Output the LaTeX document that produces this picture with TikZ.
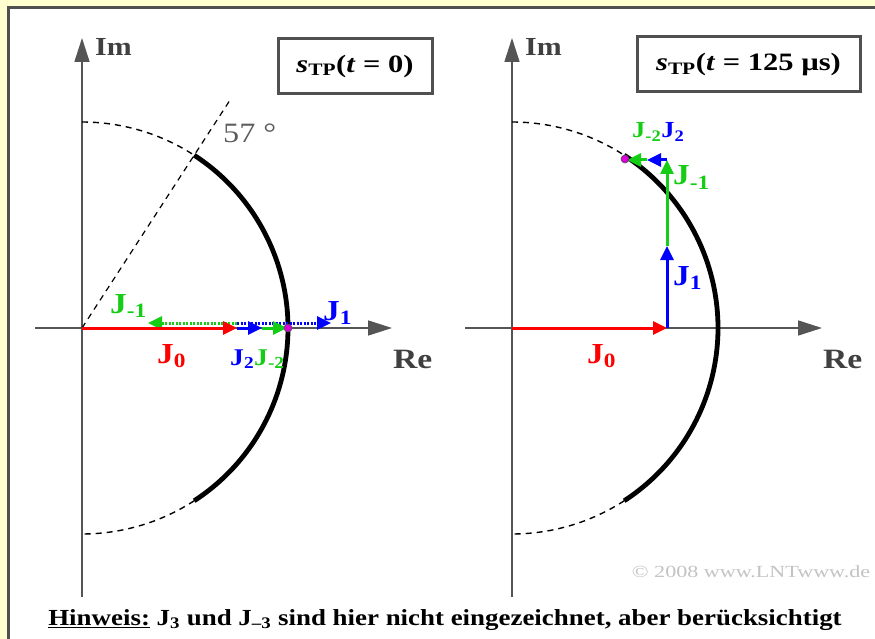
\documentclass[tikz,border=0pt]{standalone}
\usepackage{graphicx}
\usepackage{fontspec}
\setmainfont{Liberation Serif}
\usetikzlibrary{arrows.meta,calc}
\definecolor{bgyellow}{RGB}{255,255,208}
\definecolor{framegray}{RGB}{80,80,80}
\definecolor{axgray}{RGB}{85,85,85}
\definecolor{jred}{RGB}{255,0,0}
\definecolor{jblue}{RGB}{0,0,255}
\definecolor{jgreen}{RGB}{20,205,20}
\definecolor{jmag}{RGB}{220,0,220}
\definecolor{labgray}{RGB}{64,64,64}
\definecolor{copygray}{RGB}{195,195,195}
\newcommand{\fs}[1]{\fontsize{#1}{#1}\selectfont}
\newcommand{\hs}[2]{\scalebox{#1}[1]{#2}}
\begin{document}
\begin{tikzpicture}[x=1pt,y=-1pt,
  axis/.style={axgray, line width=1.6pt, -{Triangle[width=15pt,length=24pt]}},
  circdash/.style={black, line width=1.4pt, dash pattern=on 6pt off 5pt},
  circsolid/.style={black, line width=4.8pt},
  vec/.style={line width=3pt, -{Triangle[width=13pt,length=14pt]}},
  dvec/.style={line width=3pt, dash pattern=on 2pt off 1.5pt, -{Triangle[width=13pt,length=14pt]}},
  jbig/.style={font=\fs{29}\bfseries, inner sep=0pt, anchor=base west},
  jsmall/.style={font=\fs{24}\bfseries, inner sep=0pt, anchor=base west},
  axlab/.style={text=labgray, inner sep=0pt, anchor=base west},
  titlebox/.style={draw=framegray, line width=3pt, minimum height=55pt, inner sep=0pt, font=\fs{25}\bfseries},
  dot/.style={circle, fill=jmag, draw=black!70, line width=0.6pt, minimum size=8pt, inner sep=0pt}
]
\useasboundingbox (0,0) rectangle (875,639);
\clip (0,0) rectangle (875,639);
\fill[bgyellow] (0,0) rectangle (875,639);
\draw[framegray, line width=3pt, fill=white] (8,8) rectangle (900,670);

% ---------- left diagram ----------
\coordinate (O1) at (82,328);
\coordinate (L-yb) at (82,597);
\coordinate (L-yt) at (82,38);
\coordinate (L-xl) at (35,328);
\coordinate (L-xr) at (392,328);
\draw[axis] (L-yb) -- (L-yt);
\draw[axis] (L-xl) -- (L-xr);
\node[axlab, font=\fs{26}\bfseries] (L-im) at (95,56) {\hs{1.15}{Im}};
\node[axlab, font=\fs{28}\bfseries] (L-re) at (393,368) {\hs{1.2}{Re}};

\draw[circdash] ([shift={(O1)}]-90:206) arc[start angle=-90, end angle=-57, radius=206];
\draw[circsolid] ([shift={(O1)}]-57:206) arc[start angle=-57, end angle=57, radius=206];
\draw[circdash] ([shift={(O1)}]57:206) arc[start angle=57, end angle=90, radius=206];
\coordinate (L-57) at ([shift={(O1)}]-57:270);
\draw[circdash, line width=1.2pt] (O1) -- (L-57);
\node[font=\fs{28}, text=labgray!85, inner sep=0pt, anchor=base west] (L-deg) at (223,143) {\hs{1.15}{57 °}};

\coordinate (L-a) at (237,328);
\coordinate (L-b) at (262,328);
\coordinate (L-c) at (287,328);
\coordinate (L-d1) at (237,323);
\coordinate (L-d2) at (331,323);
\coordinate (L-d3) at (148,323);
\draw[dvec, jblue] (L-d1) -- (L-d2);
\draw[dvec, jgreen] (L-d1) -- (L-d3);
\draw[vec, jred] (O1) -- (L-a);
\draw[vec, jblue] (L-a) -- (L-b);
\draw[vec, jgreen] (L-b) -- (L-c);
\node[dot] (L-dot) at (288,328) {};

\node[jbig, text=jgreen] (L-jm1) at (110,313) {\hs{1.15}{J\textsubscript{-1}}};
\node[jbig, text=jblue] (L-j1) at (323,320) {\hs{1.15}{J\textsubscript{1}}};
\node[jbig, text=jred] (L-j0) at (157,363) {\hs{1.15}{J\textsubscript{0}}};
\node[jsmall] (L-j2) at (230,365) {\hs{1.15}{\textcolor{jblue}{J\textsubscript{2}}\textcolor{jgreen}{J\textsubscript{-2}}}};

\node[titlebox, minimum width=154pt] (L-title) at (355,66) {\hs{1.22}{\textit{s}\textsubscript{TP}(\textit{t} = 0)}};

% ---------- right diagram ----------
\coordinate (O2) at (512,328);
\coordinate (R-yb) at (512,597);
\coordinate (R-yt) at (512,38);
\coordinate (R-xl) at (465,328);
\coordinate (R-xr) at (822,328);
\draw[axis] (R-yb) -- (R-yt);
\draw[axis] (R-xl) -- (R-xr);
\node[axlab, font=\fs{26}\bfseries] (R-im) at (525,56) {\hs{1.15}{Im}};
\node[axlab, font=\fs{28}\bfseries] (R-re) at (823,368) {\hs{1.2}{Re}};

\draw[circdash] ([shift={(O2)}]-90:206) arc[start angle=-90, end angle=-57, radius=206];
\draw[circsolid] ([shift={(O2)}]-57:206) arc[start angle=-57, end angle=57, radius=206];
\draw[circdash] ([shift={(O2)}]57:206) arc[start angle=57, end angle=90, radius=206];

\coordinate (R-a) at (667,328);
\coordinate (R-b) at (667,246);
\coordinate (R-c) at (667,160);
\coordinate (R-d) at (647,160);
\coordinate (R-e) at (627,160);
\draw[vec, jred] (O2) -- (R-a);
\draw[vec, jblue] (R-a) -- (R-b);
\draw[vec, jgreen] (R-b) -- (R-c);
\draw[vec, jblue] (R-c) -- (R-d);
\draw[vec, jgreen] (R-d) -- (R-e);
\node[dot] (R-dot) at (625,159) {};

\node[jbig, text=jred] (R-j0) at (587,363) {\hs{1.15}{J\textsubscript{0}}};
\node[jbig, text=jblue] (R-j1) at (673,285) {\hs{1.15}{J\textsubscript{1}}};
\node[jbig, text=jgreen] (R-jm1) at (673,185) {\hs{1.15}{J\textsubscript{-1}}};
\node[jsmall, font=\fs{23}\bfseries] (R-j2) at (632,138) {\hs{1.15}{\textcolor{jgreen}{J\textsubscript{-2}}\textcolor{jblue}{J\textsubscript{2}}}};

\node[titlebox, minimum width=223pt] (R-title) at (748.5,64.5) {\hs{1.22}{\textit{s}\textsubscript{TP}(\textit{t} = 125 µs)}};

% ---------- footer ----------
\node[font=\fs{17}, text=copygray, inner sep=0pt] (copy) at (751,572) {\hs{1.3}{© 2008 www.LNTwww.de}};
\node[font=\fs{23}\bfseries, inner sep=0pt, anchor=base] (note) at (445,625) {\hs{1.17}{\underline{Hinweis:} J\textsubscript{3} und J\textsubscript{–3} sind hier nicht eingezeichnet, aber berücksichtigt}};
\end{tikzpicture}
\end{document}
